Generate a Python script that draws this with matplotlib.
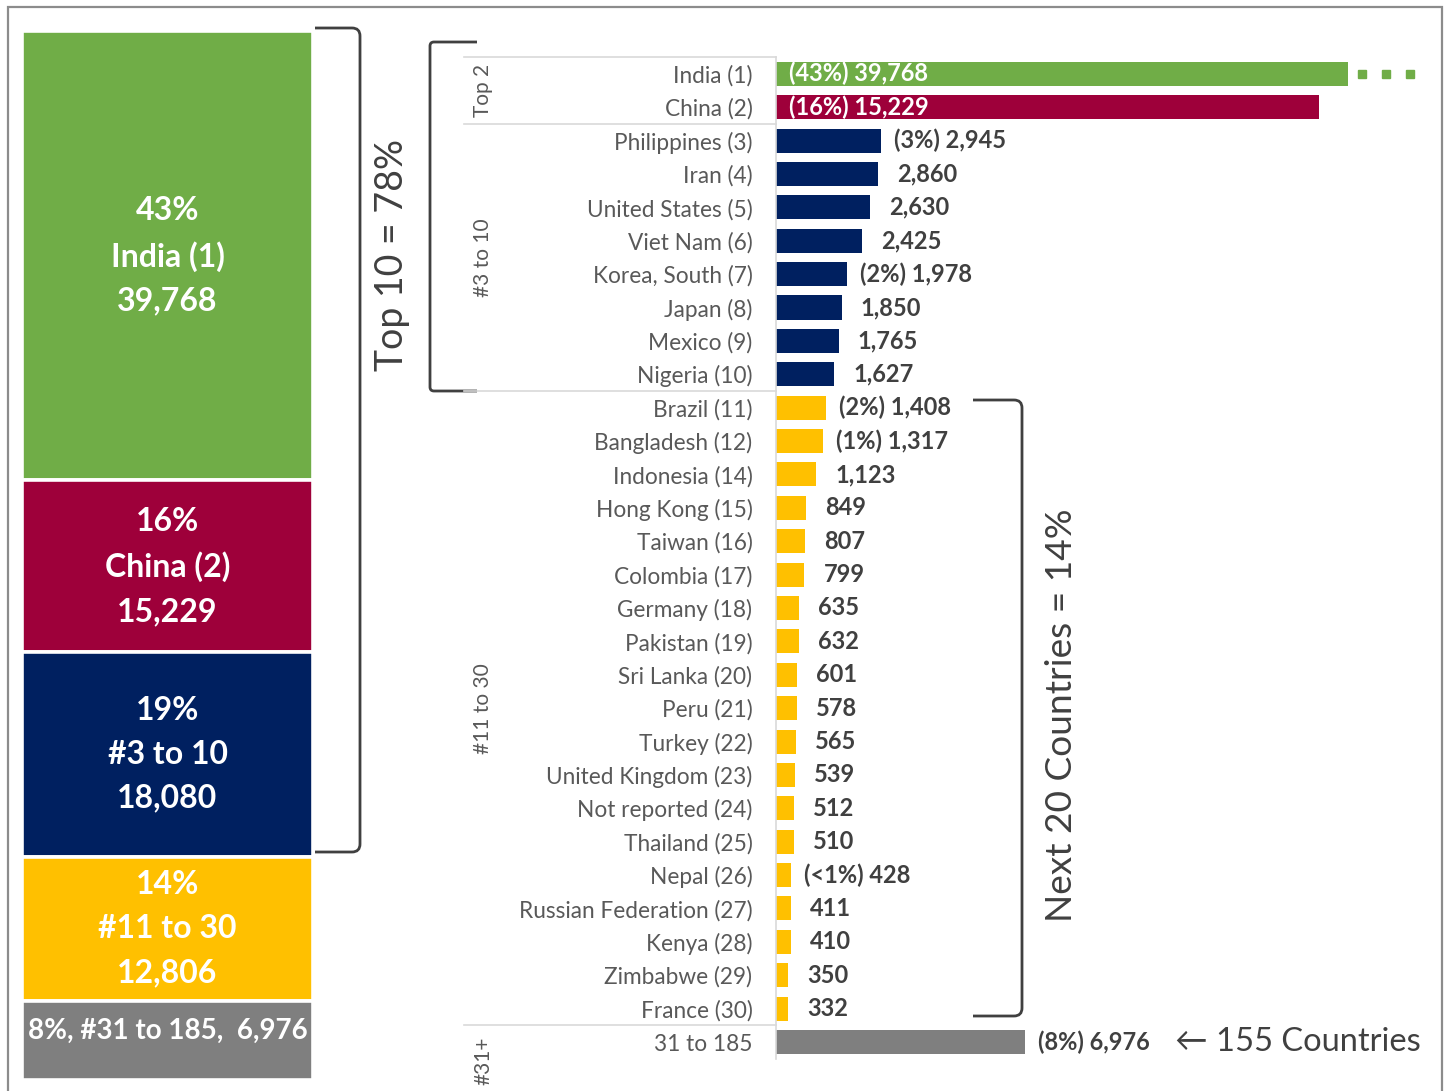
import matplotlib
matplotlib.use("Agg")
import matplotlib.pyplot as plt
import matplotlib.transforms as mtransforms
from matplotlib.lines import Line2D
from matplotlib.path import Path
from matplotlib.patches import PathPatch, Rectangle

plt.rcParams["font.family"] = ["Lato", "DejaVu Sans"]

# ---- data -------------------------------------------------------------
countries = [
    "India (1)", "China (2)", "Philippines (3)", "Iran (4)", "United States (5)",
    "Viet Nam (6)", "Korea, South (7)", "Japan (8)", "Mexico (9)", "Nigeria (10)",
    "Brazil (11)", "Bangladesh (12)", "Indonesia (14)", "Hong Kong (15)",
    "Taiwan (16)", "Colombia (17)", "Germany (18)", "Pakistan (19)",
    "Sri Lanka (20)", "Peru (21)", "Turkey (22)", "United Kingdom (23)",
    "Not reported (24)", "Thailand (25)", "Nepal (26)", "Russian Federation (27)",
    "Kenya (28)", "Zimbabwe (29)", "France (30)", "31 to 185",
]
values = [
    39768, 15229, 2945, 2860, 2630, 2425, 1978, 1850, 1765, 1627,
    1408, 1317, 1123, 849, 807, 799, 635, 632, 601, 578,
    565, 539, 512, 510, 428, 411, 410, 350, 332, 6976,
]
shares = [
    "43%", "16%", "3%", "", "", "", "2%", "", "", "",
    "2%", "1%", "", "", "", "", "", "", "", "",
    "", "", "", "", "<1%", "", "", "", "", "8%",
]
groups = ["Top 2", "#3 to 10", "#11 to 30", "#31+"]
group_sizes = [2, 8, 19, 1]

seg_names = ["India (1)", "China (2)", "#3 to 10", "#11 to 30", "#31 to 185"]
seg_values = [39768, 15229, 18080, 12806, 6976]
seg_shares = ["43%", "16%", "19%", "14%", "8%"]

GREEN, CRIMSON, NAVY, GOLD, GREY = "#70AD47", "#9E003A", "#002060", "#FFC000", "#7F7F7F"
bar_colors = [GREEN, CRIMSON] + [NAVY] * 8 + [GOLD] * 19 + [GREY]
seg_colors = [GREEN, CRIMSON, NAVY, GOLD, GREY]

TXT = "#404040"
TICK = "#595959"
RULE = "#D9D9D9"

W, H = 1446, 1091
fig = plt.figure(figsize=(W / 100, H / 100), dpi=100)


def fx(x):
    return x / W


def fy(y):
    return 1 - y / H


# outer frame
fig.patches.append(Rectangle((fx(8), fy(1100)), fx(1442) - fx(8), fy(7) - fy(1100),
                             transform=fig.transFigure, fill=False,
                             edgecolor="#8C8C8C", lw=1.6))

# ---- left: single stacked column -----------------------------------------
ax0 = fig.add_axes([fx(22), fy(1080), fx(313) - fx(22), fy(31) - fy(1080)])
total = sum(seg_values)
bottom = 0
for name, val, share, col in zip(seg_names, seg_values, seg_shares, seg_colors):
    ax0.bar(0, val, bottom=bottom, width=1, color=col, edgecolor="white", lw=2.6)
    mid = bottom + val / 2
    if name.startswith("#31"):
        ax0.annotate(f"{share}, {name},  {val:,}", (0, mid), xytext=(0, 10),
                     textcoords="offset pixels", ha="center", va="center",
                     color="white", fontsize=20, fontweight="bold")
    else:
        ax0.text(0, mid, f"{share}\n{name}\n{val:,}", ha="center", va="center",
                 color="white", fontsize=23, fontweight="bold", linespacing=1.62)
    bottom += val
ax0.set_xlim(-0.5, 0.5)
ax0.set_ylim(total, 0)
ax0.axis("off")

# ---- right: ranked horizontal bars ----------------------------------------
ax = fig.add_axes([fx(776), fy(1058.7), fx(1348) - fx(776), fy(57.1) - fy(1058.7)])
ypos = list(range(len(values)))
ax.barh(ypos, values, height=0.72, color=bar_colors)
ax.set_xlim(0, 16040)
ax.set_ylim(len(values) - 0.5, -0.5)
ax.set_yticks(ypos)
ax.set_yticklabels(countries, color=TICK, fontsize=16.3)
ax.tick_params(axis="y", length=0, pad=17)
ax.set_xticks([])
for s in ["top", "right", "bottom"]:
    ax.spines[s].set_visible(False)
ax.spines["left"].set_color(RULE)
ax.spines["left"].set_linewidth(1.2)

for i, (v, sh) in enumerate(zip(values, shares)):
    txt = f"({sh}) {v:,}" if sh else f"{v:,}"
    if i < 2:
        ax.annotate(txt, (0, i), xytext=(13, 0), textcoords="offset pixels",
                    ha="left", va="center", color="white", fontsize=17,
                    fontweight="bold")
    else:
        ax.annotate(txt, (v, i), xytext=(13 if sh else 19, 0),
                    textcoords="offset pixels", ha="left", va="center",
                    color=TXT, fontsize=17, fontweight="bold")

# India's bar runs off the scale: dotted continuation
bt = mtransforms.blended_transform_factory(ax.transAxes, ax.transData)
ax.plot([1.0245, 1.066, 1.108], [0, 0, 0], ls="none", marker="s", ms=6,
        color=GREEN, transform=bt, clip_on=False)

# note on the "31 to 185" row
ax.annotate("\u2190 155 Countries", (values[-1], len(values) - 1), xytext=(150, 0),
            textcoords="offset pixels", ha="left", va="center", color=TXT,
            fontsize=23.5)

# category group rules and group names
gt = mtransforms.blended_transform_factory(fig.transFigure, ax.transData)
edges = [-0.5]
for n in group_sizes:
    edges.append(edges[-1] + n)
for e in edges[:-1]:
    fig.lines.append(Line2D([fx(464), fx(776)], [e, e], transform=gt,
                            color=RULE, lw=1.2))
for k, g in enumerate(groups):
    c = (edges[k] + edges[k + 1]) / 2
    if g == "#31+":
        c = edges[k + 1] + 0.05
    fig.text(fx(483), c, g, transform=gt, rotation=90, ha="center", va="center",
             color=TICK, fontsize=15)


# ---- brackets and bracket captions ----------------------------------------
def bracket(x_open, x_spine, y_top, y_bot, r=8):
    s = 1 if x_spine > x_open else -1
    pts = [(x_open, y_top), (x_spine - s * r, y_top), (x_spine, y_top),
           (x_spine, y_top + r), (x_spine, y_bot - r), (x_spine, y_bot),
           (x_spine - s * r, y_bot), (x_open, y_bot)]
    codes = [Path.MOVETO, Path.LINETO, Path.CURVE3, Path.CURVE3, Path.LINETO,
             Path.CURVE3, Path.CURVE3, Path.LINETO]
    path = Path([(fx(x), fy(y)) for x, y in pts], codes)
    fig.patches.append(PathPatch(path, transform=fig.transFigure, fill=False,
                                 edgecolor=TXT, lw=2.0))


bracket(315, 360, 28, 852)
bracket(477, 430, 42, 391, r=4)
bracket(973, 1022, 400, 1016)

fig.text(fx(392), fy(255), "Top 10 = 78%", rotation=90, ha="center", va="center",
         color=TXT, fontsize=27)
fig.text(fx(1062), fy(715), "Next 20 Countries = 14%", rotation=90, ha="center",
         va="center", color=TXT, fontsize=26.7)

fig.savefig("out.png", dpi=100)
